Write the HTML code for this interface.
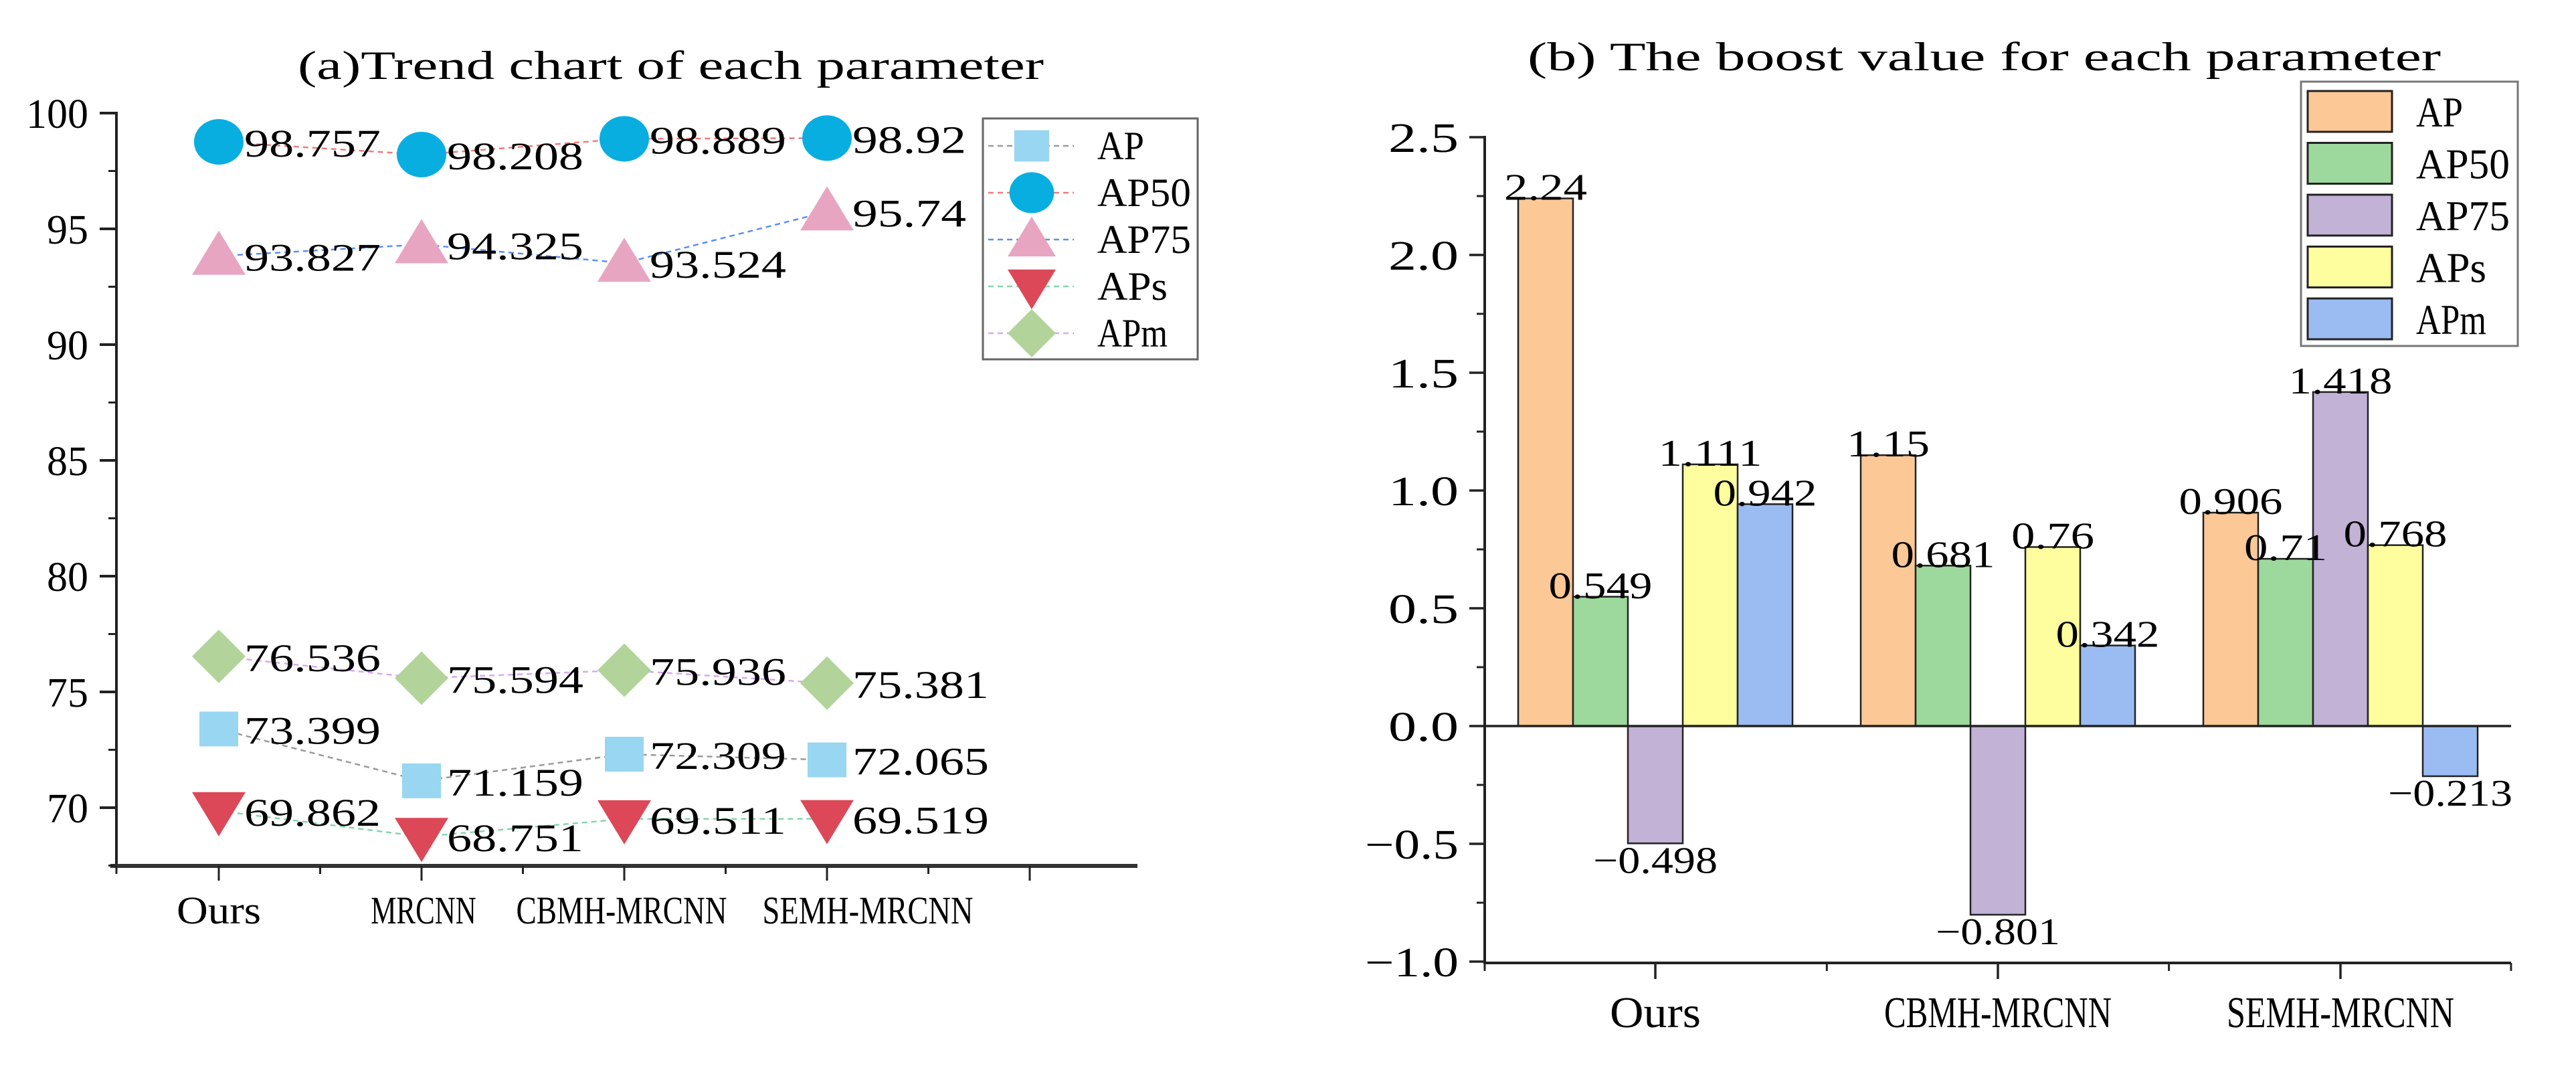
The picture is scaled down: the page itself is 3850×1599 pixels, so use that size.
<!DOCTYPE html>
<html><head><meta charset="utf-8"><style>
html,body{margin:0;padding:0;background:#fff;}
svg{display:block;font-family:"Liberation Serif","Noto Serif CJK SC",serif;}
</style></head><body>
<svg id="fig" width="3850" height="1599" viewBox="0 0 3850 1599" xmlns="http://www.w3.org/2000/svg">
<rect width="3850" height="1599" fill="#fff"/>
<g id="left"></g>
<g id="right"></g>
</svg>
<script>
// ---- Left chart data ----
const catsL = ["Ours","MRCNN","CBMH-MRCNN","SEMH-MRCNN"];
const seriesNames = ["AP","AP50","AP75","APs","APm"];
const valAP   = [73.399, 71.159, 72.309, 72.065];
const valAP50 = [98.757, 98.208, 98.889, 98.92];
const valAP75 = [93.827, 94.325, 93.524, 95.74];
const valAPs  = [69.862, 68.751, 69.511, 69.519];
const valAPm  = [76.536, 75.594, 75.936, 75.381];
const ticksL  = [100, 95, 90, 85, 80, 75, 70];
// ---- Right chart data ----
const catsR = ["Ours","CBMH-MRCNN","SEMH-MRCNN"];
const boostAP   = [2.24, 1.15, 0.906];
const boostAP50 = [0.549, 0.681, 0.71];
const boostAP75 = [-0.498, -0.801, 1.418];
const boostAPs  = [1.111, 0.76, 0.768];
const boostAPm  = [0.942, 0.342, -0.213];
const ticksR = [2.5, 2.0, 1.5, 1.0, 0.5, 0.0, -0.5, -1.0];

const NS = "http://www.w3.org/2000/svg";
function mk(tag, attrs, parent){ const e=document.createElementNS(NS,tag); for(const k in attrs) e.setAttribute(k,attrs[k]); parent.appendChild(e); return e; }
function txt(s, attrs, parent){ const e=mk("text",attrs,parent); e.textContent=s; return e; }

// ===== LEFT =====
const L = document.getElementById("left");
const yL = v => 169 + (100 - v) * 34.6;
const xL = i => 327 + i * 303;
const labelOffsetX = [0, 3, -4, 61];
const axL = 174, xAxisY = 1294, xEnd = 1700;

let t = txt("(a)Trend chart of each parameter", {x:445, y:118, "font-size":60, textLength:1115, lengthAdjust:"spacingAndGlyphs"}, L);



let ya = mk("line",{x1:axL,y1:167,x2:axL,y2:xAxisY,stroke:"#222","stroke-width":4},L);


let xa = mk("line",{x1:165,y1:xAxisY,x2:xEnd,y2:xAxisY,stroke:"#333","stroke-width":6},L);



ticksL.forEach(v=>{
  const y=yL(v);
  mk("line",{x1:axL-25,y1:y,x2:axL,y2:y,stroke:"#222","stroke-width":4},L);
  const e=txt(String(v),{x:132,y:y+22,"font-size":62,"text-anchor":"end"},L);
  
  
  const m=yL(v-2.5);
  if(m<xAxisY) mk("line",{x1:axL-12,y1:m,x2:axL,y2:m,stroke:"#222","stroke-width":3},L);
});
for(let k=-1;k<9;k++){
  const major = k>=0 && k%2===0;
  const xx = k<0 ? axL : 327 + k*151.5;
  mk("line",{x1:xx,y1:xAxisY,x2:xx,y2:xAxisY+(major?22:12),stroke:"#222","stroke-width":3},L);
}
catsL.forEach((c,i)=>{
  const e=txt(c,{x:xL(i)+labelOffsetX[i],y:1380,"font-size":58,"text-anchor":"middle",textLength:c.length*31.5,lengthAdjust:"spacingAndGlyphs"},L);
  
  
});

const lSeries = [
  {name:"AP",vals:valAP,line:"#9a9a9a",fill:"#99d6f1",shape:"square"},
  {name:"AP50",vals:valAP50,line:"#f27a7a",fill:"#08aee0",shape:"circle"},
  {name:"AP75",vals:valAP75,line:"#5b8ff0",fill:"#e8a5c2",shape:"up"},
  {name:"APs",vals:valAPs,line:"#85d6ab",fill:"#dc4858",shape:"down"},
  {name:"APm",vals:valAPm,line:"#d6a8f2",fill:"#b2d49a",shape:"diamond"}
];
function marker(shape,x,y,fill,parent,s){
  s=s||1;
  if(shape==="square") return mk("rect",{x:x-29*s,y:y-26*s,width:58*s,height:52*s,fill:fill},parent);
  if(shape==="circle") return mk("ellipse",{cx:x,cy:y,rx:37*s,ry:34*s,fill:fill},parent);
  if(shape==="up") return mk("polygon",{points:`${x},${y-38*s} ${x-40*s},${y+28*s} ${x+40*s},${y+28*s}`,fill:fill},parent);
  if(shape==="down") return mk("polygon",{points:`${x-40*s},${y-28*s} ${x+40*s},${y-28*s} ${x},${y+38*s}`,fill:fill},parent);
  if(shape==="diamond") return mk("polygon",{points:`${x},${y-40*s} ${x+40*s},${y} ${x},${y+40*s} ${x-40*s},${y}`,fill:fill},parent);
}
lSeries.forEach(s=>{
  const pts=s.vals.map((v,i)=>`${xL(i)},${yL(v)}`).join(" ");
  const pl=mk("polyline",{points:pts,fill:"none",stroke:s.line,"stroke-width":2.5,"stroke-dasharray":"8 6"},L);
  
  
});
lSeries.forEach(s=>{
  s.vals.forEach((v,i)=>{
    const m=marker(s.shape,xL(i),yL(v),s.fill,L);
    
    
  });
});
lSeries.forEach(s=>{
  s.vals.forEach((v,i)=>{
    const str=String(v);
    const e=txt(str,{x:xL(i)+38,y:yL(v)+22,"font-size":58,textLength:str.length*34,lengthAdjust:"spacingAndGlyphs"},L);
    
    
  });
});
// legend
const lg = mk("g",{},L);


mk("rect",{x:1469,y:177,width:321,height:360,fill:"#fff",stroke:"#666","stroke-width":3},lg);
lSeries.forEach((s,k)=>{
  const y=218+k*70;
  mk("line",{x1:1477,y1:y,x2:1605,y2:y,stroke:s.line,"stroke-width":2.5,"stroke-dasharray":"8 6"},lg);
  marker(s.shape,1542,y,s.fill,lg,0.9);
  const e=txt(s.name,{x:1640,y:y+20,"font-size":60,textLength:s.name.length*35,lengthAdjust:"spacingAndGlyphs"},lg);
  
  
});

// ===== RIGHT =====
const R = document.getElementById("right");
const yR = v => 1085 - v*352;
const cxR = i => 2474 + i*512;
const axR = 2219, xEndR = 3753, barW = 82;
t = txt("(b) The boost value for each parameter",{x:2283,y:105,"font-size":60,textLength:1365,lengthAdjust:"spacingAndGlyphs"},R);



const rSeries=[
  {name:"AP",vals:boostAP,fill:"#fbc896"},
  {name:"AP50",vals:boostAP50,fill:"#9dd89c"},
  {name:"AP75",vals:boostAP75,fill:"#c2b2d6"},
  {name:"APs",vals:boostAPs,fill:"#fefe9e"},
  {name:"APm",vals:boostAPm,fill:"#9bbcf2"}
];
rSeries.forEach((s,j)=>{
  s.vals.forEach((v,i)=>{
    const x=cxR(i)-205+j*barW;
    const y0=yR(Math.max(v,0)), y1=yR(Math.min(v,0));
    const b=mk("rect",{x:x,y:y0,width:barW,height:y1-y0,fill:s.fill,stroke:"#222","stroke-width":2.5},R);
    
    
  });
});
rSeries.forEach((s,j)=>{
  s.vals.forEach((v,i)=>{
    const x=cxR(i)-205+j*barW+barW/2;
    const str=v<0?"\u2212"+String(Math.abs(v)):String(v);
    const y=v>=0?yR(v)+2:yR(v)+44;
    const e=txt(str,{x:x,y:y,"font-size":56,"text-anchor":"middle",textLength:str.length*31,lengthAdjust:"spacingAndGlyphs"},R);
    
    
  });
});
let ra=mk("line",{x1:axR,y1:203,x2:axR,y2:1441,stroke:"#222","stroke-width":4},R);


let rx=mk("line",{x1:axR,y1:1439,x2:xEndR,y2:1439,stroke:"#222","stroke-width":4},R);


let zl=mk("line",{x1:axR,y1:yR(0),x2:xEndR,y2:yR(0),stroke:"#222","stroke-width":3.5},R);


ticksR.forEach(v=>{
  const y=yR(v);
  mk("line",{x1:axR-23,y1:y,x2:axR,y2:y,stroke:"#222","stroke-width":3.5},R);
  const str=(v<0?"\u2212":"")+Math.abs(v).toFixed(1);
  const e=txt(str,{x:2180,y:y+22,"font-size":62,"text-anchor":"end",textLength:str.length*35,lengthAdjust:"spacingAndGlyphs"},R);
  
  
  if(v>-1){ const m=yR(v-0.25); mk("line",{x1:axR-12,y1:m,x2:axR,y2:m,stroke:"#222","stroke-width":3},R); }
});
for(let k=0;k<=3;k++){ const x=axR+k*511.3; mk("line",{x1:x,y1:1439,x2:x,y2:1451,stroke:"#222","stroke-width":3},R); }
catsR.forEach((c,i)=>{
  mk("line",{x1:cxR(i),y1:1439,x2:cxR(i),y2:1463,stroke:"#222","stroke-width":3.5},R);
  const e=txt(c,{x:cxR(i),y:1535,"font-size":66,"text-anchor":"middle",textLength:c.length*34,lengthAdjust:"spacingAndGlyphs"},R);
  
  
});
const rg=mk("g",{},R);


mk("rect",{x:3439,y:122,width:324,height:395,fill:"#fff",stroke:"#777","stroke-width":3},rg);
rSeries.forEach((s,k)=>{
  const y=136+k*77.5;
  mk("rect",{x:3449,y:y,width:126,height:61,fill:s.fill,stroke:"#222","stroke-width":3},rg);
  const e=txt(s.name,{x:3611,y:y+53,"font-size":64,textLength:s.name.length*35,lengthAdjust:"spacingAndGlyphs"},rg);
  
  
});
</script>
</body></html>
